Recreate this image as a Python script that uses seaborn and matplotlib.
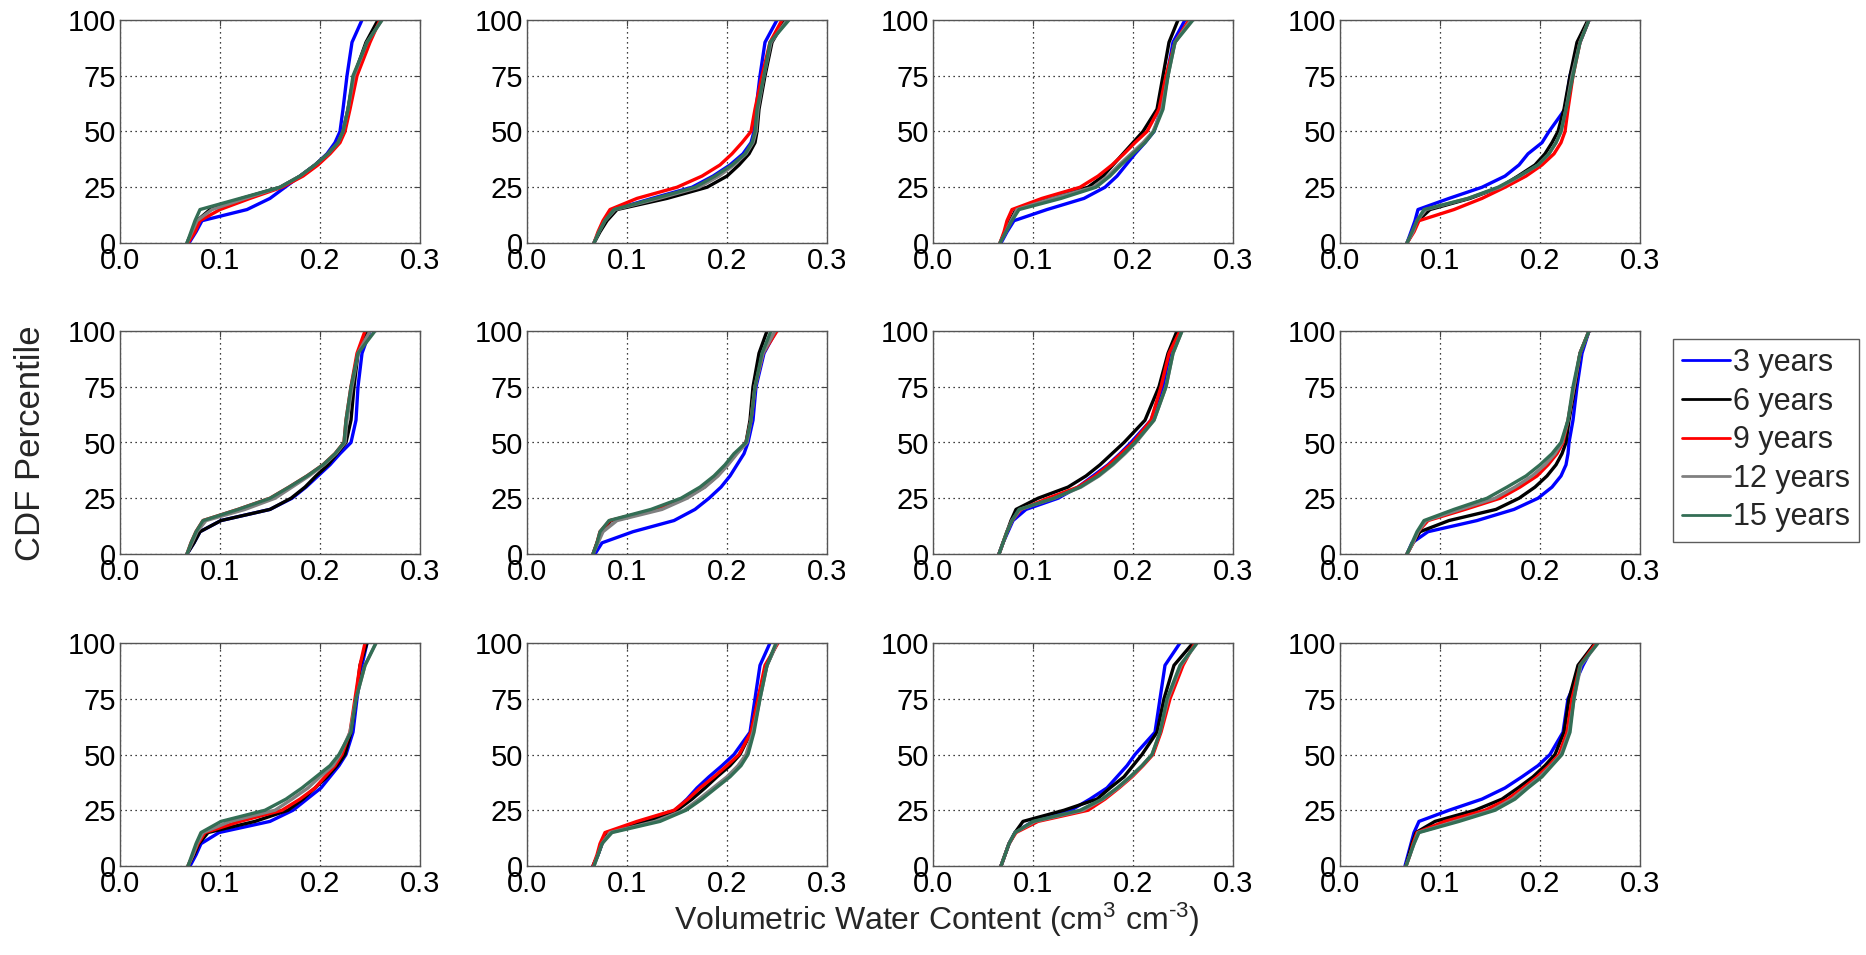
import numpy as np
import pandas as pd
import matplotlib
matplotlib.use("Agg")
import matplotlib.pyplot as plt
import seaborn as sns

# CDF percentile levels at which the curves were read
pct = [0, 5, 10, 15, 20, 25, 30, 35, 40, 45, 50, 60, 75, 90, 100]

series = ["3 years", "6 years", "9 years", "12 years", "15 years"]
colors = ["#0000ff", "#000000", "#ff0000", "#808080", "#336e55"]

# volumetric water content at each percentile, panel by panel (3 rows x 4 cols)
# order inside each panel: 3, 6, 9, 12, 15 years
p1 = [
    [0.069, 0.076, 0.082, 0.127, 0.150, 0.165, 0.180, 0.195, 0.207, 0.215, 0.220, 0.223, 0.227, 0.232, 0.242],
    [0.067, 0.072, 0.077, 0.090, 0.122, 0.160, 0.180, 0.195, 0.208, 0.218, 0.223, 0.228, 0.234, 0.246, 0.258],
    [0.068, 0.075, 0.080, 0.100, 0.130, 0.162, 0.183, 0.198, 0.210, 0.220, 0.225, 0.230, 0.237, 0.250, 0.260],
    [0.067, 0.072, 0.077, 0.092, 0.125, 0.160, 0.180, 0.195, 0.208, 0.218, 0.223, 0.228, 0.234, 0.247, 0.262],
    [0.067, 0.071, 0.075, 0.080, 0.120, 0.160, 0.180, 0.195, 0.208, 0.218, 0.223, 0.228, 0.233, 0.247, 0.262],
]
p2 = [
    [0.067, 0.072, 0.078, 0.087, 0.125, 0.165, 0.186, 0.203, 0.216, 0.224, 0.227, 0.229, 0.233, 0.238, 0.250],
    [0.067, 0.073, 0.080, 0.090, 0.140, 0.180, 0.200, 0.212, 0.222, 0.228, 0.230, 0.232, 0.238, 0.245, 0.258],
    [0.067, 0.071, 0.076, 0.083, 0.110, 0.150, 0.175, 0.193, 0.205, 0.215, 0.224, 0.228, 0.235, 0.243, 0.255],
    [0.067, 0.072, 0.078, 0.088, 0.132, 0.172, 0.192, 0.207, 0.219, 0.226, 0.229, 0.231, 0.237, 0.244, 0.260],
    [0.067, 0.072, 0.078, 0.087, 0.128, 0.168, 0.188, 0.205, 0.218, 0.225, 0.228, 0.230, 0.237, 0.243, 0.262],
]
p3 = [
    [0.068, 0.074, 0.081, 0.114, 0.151, 0.172, 0.184, 0.193, 0.202, 0.212, 0.221, 0.228, 0.234, 0.240, 0.252],
    [0.067, 0.072, 0.077, 0.083, 0.115, 0.155, 0.170, 0.180, 0.190, 0.200, 0.210, 0.224, 0.230, 0.236, 0.245],
    [0.067, 0.071, 0.074, 0.079, 0.109, 0.147, 0.165, 0.179, 0.191, 0.202, 0.214, 0.226, 0.233, 0.242, 0.256],
    [0.067, 0.073, 0.078, 0.084, 0.120, 0.160, 0.175, 0.186, 0.198, 0.210, 0.220, 0.229, 0.235, 0.242, 0.258],
    [0.067, 0.073, 0.079, 0.086, 0.128, 0.163, 0.177, 0.188, 0.200, 0.212, 0.221, 0.230, 0.235, 0.242, 0.260],
]
p4 = [
    [0.067, 0.071, 0.075, 0.078, 0.109, 0.142, 0.165, 0.179, 0.188, 0.202, 0.209, 0.225, 0.230, 0.240, 0.249],
    [0.067, 0.073, 0.078, 0.090, 0.130, 0.160, 0.178, 0.195, 0.205, 0.212, 0.218, 0.224, 0.230, 0.237, 0.248],
    [0.067, 0.074, 0.079, 0.114, 0.142, 0.165, 0.186, 0.202, 0.214, 0.221, 0.225, 0.228, 0.233, 0.240, 0.249],
    [0.067, 0.073, 0.077, 0.086, 0.128, 0.160, 0.180, 0.198, 0.209, 0.216, 0.221, 0.226, 0.232, 0.240, 0.249],
    [0.067, 0.072, 0.077, 0.084, 0.128, 0.158, 0.179, 0.198, 0.209, 0.216, 0.221, 0.226, 0.233, 0.240, 0.249],
]
p5 = [
    [0.067, 0.074, 0.080, 0.101, 0.150, 0.172, 0.186, 0.198, 0.210, 0.220, 0.231, 0.236, 0.238, 0.242, 0.250],
    [0.067, 0.074, 0.080, 0.101, 0.150, 0.171, 0.185, 0.196, 0.208, 0.217, 0.226, 0.231, 0.234, 0.238, 0.247],
    [0.067, 0.071, 0.076, 0.083, 0.118, 0.150, 0.169, 0.187, 0.203, 0.215, 0.224, 0.226, 0.231, 0.237, 0.245],
    [0.067, 0.072, 0.077, 0.086, 0.125, 0.155, 0.172, 0.189, 0.204, 0.216, 0.225, 0.227, 0.232, 0.238, 0.250],
    [0.067, 0.071, 0.076, 0.083, 0.118, 0.150, 0.169, 0.187, 0.203, 0.215, 0.224, 0.226, 0.231, 0.238, 0.255],
]
p6 = [
    [0.068, 0.075, 0.106, 0.147, 0.168, 0.182, 0.194, 0.203, 0.210, 0.217, 0.221, 0.226, 0.229, 0.237, 0.249],
    [0.066, 0.070, 0.074, 0.084, 0.130, 0.158, 0.177, 0.190, 0.200, 0.209, 0.219, 0.223, 0.226, 0.232, 0.240],
    [0.066, 0.070, 0.073, 0.083, 0.128, 0.158, 0.177, 0.190, 0.200, 0.209, 0.219, 0.224, 0.228, 0.236, 0.250],
    [0.066, 0.071, 0.076, 0.090, 0.135, 0.160, 0.178, 0.191, 0.201, 0.210, 0.220, 0.224, 0.228, 0.236, 0.248],
    [0.066, 0.070, 0.073, 0.082, 0.124, 0.154, 0.173, 0.187, 0.198, 0.207, 0.219, 0.224, 0.228, 0.235, 0.244],
]
p7 = [
    [0.066, 0.070, 0.075, 0.080, 0.093, 0.125, 0.145, 0.160, 0.175, 0.187, 0.198, 0.218, 0.230, 0.237, 0.247],
    [0.066, 0.070, 0.074, 0.078, 0.083, 0.105, 0.135, 0.153, 0.167, 0.179, 0.191, 0.212, 0.226, 0.235, 0.244],
    [0.066, 0.070, 0.074, 0.079, 0.088, 0.115, 0.145, 0.162, 0.176, 0.188, 0.200, 0.218, 0.228, 0.236, 0.247],
    [0.066, 0.070, 0.074, 0.079, 0.087, 0.121, 0.148, 0.166, 0.180, 0.192, 0.203, 0.221, 0.233, 0.240, 0.249],
    [0.066, 0.070, 0.074, 0.079, 0.086, 0.121, 0.147, 0.165, 0.179, 0.191, 0.202, 0.221, 0.233, 0.240, 0.249],
]
p8 = [
    [0.067, 0.072, 0.088, 0.137, 0.174, 0.198, 0.212, 0.221, 0.226, 0.228, 0.229, 0.233, 0.237, 0.242, 0.249],
    [0.067, 0.073, 0.080, 0.109, 0.156, 0.179, 0.195, 0.207, 0.216, 0.222, 0.226, 0.229, 0.235, 0.240, 0.249],
    [0.067, 0.073, 0.078, 0.088, 0.125, 0.160, 0.180, 0.197, 0.208, 0.217, 0.223, 0.228, 0.234, 0.240, 0.249],
    [0.067, 0.073, 0.078, 0.086, 0.120, 0.155, 0.175, 0.192, 0.205, 0.215, 0.222, 0.228, 0.234, 0.240, 0.249],
    [0.067, 0.072, 0.077, 0.084, 0.114, 0.147, 0.167, 0.186, 0.200, 0.212, 0.221, 0.228, 0.233, 0.240, 0.249],
]
p9 = [
    [0.070, 0.076, 0.081, 0.099, 0.150, 0.173, 0.187, 0.201, 0.210, 0.219, 0.226, 0.233, 0.237, 0.242, 0.247],
    [0.068, 0.074, 0.079, 0.088, 0.135, 0.168, 0.183, 0.195, 0.207, 0.217, 0.225, 0.231, 0.236, 0.240, 0.247],
    [0.068, 0.073, 0.078, 0.085, 0.120, 0.162, 0.180, 0.195, 0.205, 0.215, 0.222, 0.230, 0.235, 0.240, 0.245],
    [0.068, 0.073, 0.077, 0.083, 0.110, 0.155, 0.172, 0.188, 0.200, 0.213, 0.220, 0.230, 0.236, 0.245, 0.256],
    [0.068, 0.072, 0.076, 0.081, 0.101, 0.145, 0.166, 0.182, 0.196, 0.210, 0.219, 0.231, 0.236, 0.245, 0.256],
]
p10 = [
    [0.066, 0.071, 0.075, 0.080, 0.120, 0.148, 0.160, 0.170, 0.182, 0.195, 0.207, 0.223, 0.228, 0.233, 0.243],
    [0.066, 0.071, 0.075, 0.080, 0.120, 0.150, 0.165, 0.178, 0.190, 0.203, 0.213, 0.224, 0.231, 0.240, 0.250],
    [0.066, 0.070, 0.073, 0.078, 0.110, 0.147, 0.161, 0.173, 0.187, 0.200, 0.212, 0.224, 0.231, 0.238, 0.251],
    [0.067, 0.071, 0.075, 0.083, 0.128, 0.157, 0.172, 0.186, 0.200, 0.211, 0.219, 0.226, 0.233, 0.240, 0.250],
    [0.067, 0.071, 0.075, 0.085, 0.133, 0.159, 0.175, 0.189, 0.203, 0.214, 0.221, 0.227, 0.233, 0.240, 0.249],
]
p11 = [
    [0.068, 0.072, 0.076, 0.082, 0.100, 0.138, 0.157, 0.174, 0.184, 0.194, 0.202, 0.222, 0.227, 0.232, 0.247],
    [0.068, 0.072, 0.076, 0.082, 0.090, 0.131, 0.164, 0.177, 0.191, 0.200, 0.209, 0.224, 0.231, 0.241, 0.260],
    [0.068, 0.072, 0.076, 0.083, 0.105, 0.155, 0.172, 0.186, 0.199, 0.210, 0.220, 0.228, 0.237, 0.250, 0.262],
    [0.068, 0.072, 0.076, 0.082, 0.102, 0.150, 0.170, 0.185, 0.198, 0.209, 0.219, 0.227, 0.235, 0.248, 0.264],
    [0.068, 0.072, 0.076, 0.082, 0.100, 0.147, 0.169, 0.184, 0.197, 0.209, 0.219, 0.227, 0.234, 0.247, 0.264],
]
p12 = [
    [0.065, 0.068, 0.071, 0.074, 0.079, 0.109, 0.142, 0.165, 0.182, 0.198, 0.210, 0.223, 0.228, 0.243, 0.255],
    [0.066, 0.069, 0.072, 0.076, 0.095, 0.135, 0.162, 0.178, 0.193, 0.205, 0.215, 0.224, 0.229, 0.238, 0.255],
    [0.066, 0.070, 0.073, 0.077, 0.105, 0.145, 0.168, 0.183, 0.197, 0.209, 0.219, 0.227, 0.232, 0.240, 0.256],
    [0.066, 0.070, 0.074, 0.078, 0.115, 0.152, 0.172, 0.186, 0.200, 0.211, 0.221, 0.229, 0.234, 0.241, 0.258],
    [0.066, 0.070, 0.074, 0.079, 0.119, 0.155, 0.175, 0.188, 0.202, 0.212, 0.222, 0.230, 0.234, 0.240, 0.258],
]
panels = [p1, p2, p3, p4, p5, p6, p7, p8, p9, p10, p11, p12]

x_ticks = [0.0, 0.1, 0.2, 0.3]
y_ticks = [0, 25, 50, 75, 100]

sns.set_theme(style="white")
plt.rcParams["font.family"] = ["Liberation Sans", "DejaVu Sans"]
plt.rcParams["mathtext.fontset"] = "custom"
plt.rcParams["mathtext.rm"] = "Liberation Sans"
plt.rcParams["mathtext.it"] = "Liberation Sans"

fig = plt.figure(figsize=(18.66, 9.55), dpi=100)

W, H = 1866.0, 955.0
col_left = [120, 527, 933, 1340]
row_top = [20, 331, 643]
ax_w, ax_h = 300, 223

for i, data in enumerate(panels):
    r, c = divmod(i, 4)
    ax = fig.add_axes([col_left[c] / W, 1 - (row_top[r] + ax_h) / H, ax_w / W, ax_h / H])
    for vals, name, col in zip(data, series, colors):
        sns.lineplot(x=vals, y=pct, ax=ax, color=col, linewidth=2.4,
                     sort=False, estimator=None, label=name if i == 0 else None)
    ax.set_xlim(0, 0.3)
    ax.set_ylim(0, 100)
    ax.set_xticks(x_ticks)
    ax.set_xticklabels([f"{t:.1f}" for t in x_ticks])
    ax.set_yticks(y_ticks)
    ax.grid(True, color="black", linestyle=(0, (1, 3)), linewidth=0.9)
    ax.tick_params(direction="in", length=4, width=0.8, top=True, right=True,
                   labelsize=21, pad=3, colors="#444444", labelcolor="black")
    for s in ax.spines.values():
        s.set_color("#555555")
        s.set_linewidth(1.0)
    if ax.get_legend() is not None:
        handles, labels = ax.get_legend_handles_labels()
        ax.get_legend().remove()

leg = fig.legend(handles, labels, loc="upper left", bbox_to_anchor=(1673 / W, 1 - 339 / H),
                 frameon=True, fancybox=False, edgecolor="#333333", fontsize=22,
                 handlelength=1.55, handletextpad=0.12, labelspacing=0.28,
                 borderpad=0.3, borderaxespad=0)
leg.get_frame().set_linewidth(1.0)
for ln in leg.get_lines():
    ln.set_linewidth(2.0)

fig.text(31 / W, 1 - 443 / H, "CDF Percentile", rotation=90, ha="center", va="center", fontsize=25)
fig.text(937 / W, 1 - 920 / H, r"Volumetric Water Content (cm$^{\text{3}}$ cm$^{\text{-3}}$)",
         ha="center", va="center", fontsize=23)

fig.savefig("out.png", dpi=100)
